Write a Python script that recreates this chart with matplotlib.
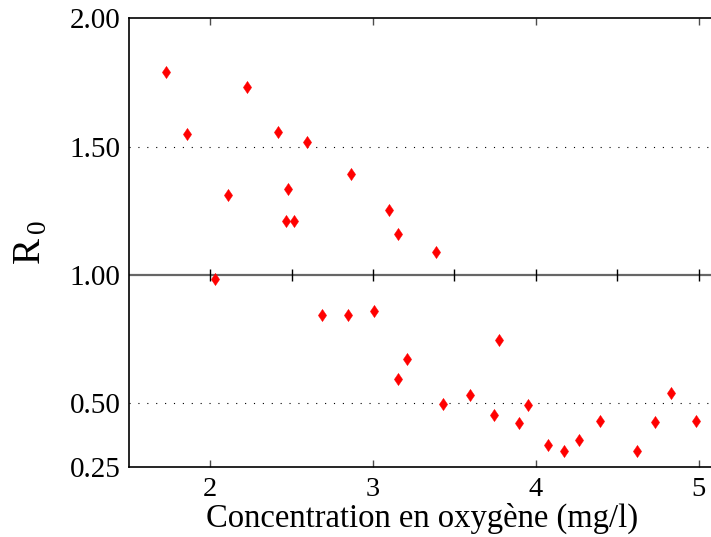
import matplotlib
matplotlib.use("Agg")
import matplotlib.pyplot as plt
import numpy as np
from matplotlib.path import Path

plt.rcParams['font.family'] = ['Liberation Serif', 'DejaVu Serif']
plt.rcParams['mathtext.fontset'] = 'custom'
plt.rcParams['mathtext.rm'] = 'Liberation Serif'

oxygen = [1.728, 1.859, 2.226, 2.112, 2.418, 2.596, 2.477, 2.465, 2.517, 2.866,
          3.096, 3.155, 3.384,
          2.028, 2.684, 2.845,
          3.006, 3.206, 3.155, 3.776, 3.427, 3.594, 3.741, 3.894, 3.951,
          4.074, 4.174, 4.262, 4.394, 4.623, 4.733, 4.831, 4.980]
r0 = [1.791, 1.548, 1.734, 1.309, 1.558, 1.519, 1.334, 1.210, 1.210, 1.391,
      1.253, 1.160, 1.090,
      0.983, 0.841, 0.841,
      0.859, 0.672, 0.594, 0.744, 0.495, 0.531, 0.453, 0.421, 0.490,
      0.335, 0.314, 0.357, 0.430, 0.314, 0.426, 0.538, 0.430]

x_ticks = [2, 3, 4, 5]
y_ticks = [0.25, 0.50, 1.00, 1.50, 2.00]
y_tick_labels = ['0.25', '0.50', '1.00', '1.50', '2.00']
ref_ticks = [2, 2.5, 3, 3.5, 4, 4.5, 5]

fig = plt.figure(figsize=(7.11, 5.37), dpi=100)
ax = fig.add_axes([0.181, 0.1304, 0.8248, 0.8355])

diamond = Path([(0, 1), (0.68, 0), (0, -1), (-0.68, 0), (0, 1)],
               [Path.MOVETO, Path.LINETO, Path.LINETO, Path.LINETO, Path.CLOSEPOLY])

ax.set_xlim(1.5, 5.1)
ax.set_ylim(0.25, 2.0)

for yv in [0.5, 1.5]:
    ax.axhline(yv, color='black', lw=0.8, ls=(0, (1, 7)), zorder=1)
ax.axhline(1.0, color='0.4', lw=1.6, zorder=1)
ax.plot(ref_ticks, [1.0] * len(ref_ticks), ls='none', marker='|',
        markersize=9, color='black', mew=1.0, zorder=2)

ax.plot(oxygen, r0, ls='none', marker=diamond, markersize=8.8,
        color='red', mec='red', mew=0.3, zorder=3)

ax.set_xticks(x_ticks)
ax.set_xticklabels([str(t) for t in x_ticks])
ax.set_yticks(y_ticks)
ax.set_yticklabels(y_tick_labels)
ax.tick_params(axis='x', direction='in', top=True, length=5, width=1,
               labelsize=20.5, pad=7, color='0.3')
ax.tick_params(axis='y', length=0, labelsize=21, pad=6)
ax.spines['right'].set_visible(False)
for s in ['left', 'top', 'bottom']:
    ax.spines[s].set_linewidth(1.2)

ax.set_xlabel('Concentration en oxygène (mg/l)', fontsize=23.5, labelpad=1)
ax.set_ylabel(r'R$_{\,0}$', fontsize=28, labelpad=14)

fig.savefig('out.png', dpi=100)
